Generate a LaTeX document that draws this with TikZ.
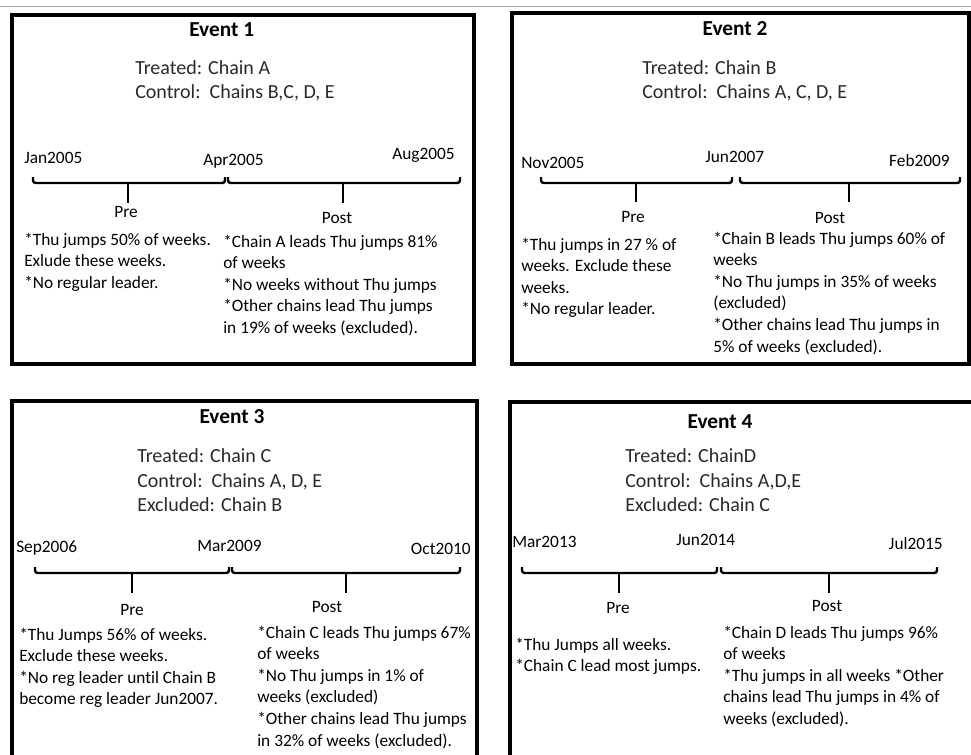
\documentclass[tikz,border=0pt]{standalone}
\usepackage{fontspec}
\setmainfont{Carlito}[Ligatures=NoCommon]
\usepackage{tikz}
\tikzstyle{panel} = [x=.75pt, y=-.75pt]
\definecolor{groupColor}{RGB}{44,40,36}
\definecolor{ruleColor}{RGB}{165,165,165}
\tikzstyle{ruleLine} = [color=ruleColor, line width=1.2pt]
\tikzstyle{frameStyle} = [draw=black, line width=3pt]
\tikzstyle{titleText} = [font=\fontsize{16}{19}\selectfont\bfseries, anchor=base, inner sep=0pt]
\tikzstyle{groupText} = [font=\fontsize{15}{18}\selectfont, text=groupColor, anchor=base west, inner sep=0pt]
\tikzstyle{dateText} = [font=\fontsize{13}{16}\selectfont, anchor=base west, inner sep=0pt]
\tikzstyle{phaseText} = [font=\fontsize{13}{16}\selectfont, anchor=base, inner sep=0pt]
\tikzstyle{noteText} = [font=\fontsize{13}{16.2}\selectfont, anchor=base west, inner sep=0pt]
\tikzstyle{braceLine} = [line width=1.8pt, rounded corners=2pt]
\newcommand{\eventFrame}[4]{\draw [frameStyle] (#1,#2) rectangle (#3,#4);}
% bracket from #1 to #2 hanging at height #4, stem at #3 down to #5
\newcommand{\periodBrace}[5]{
  \draw [braceLine] (#1,#4 - 6) -- (#1,#4) -- (#2,#4) -- (#2,#4 - 6);
  \draw [braceLine] (#3,#4) -- (#3,#5);
}
% lines hang from the baseline of the first one
\newcommand{\noteLines}[1]{\begin{tabular}[t]{@{}l@{}}#1\end{tabular}}
% bullet star, kept away from \\*
\newcommand{\bul}{{}*}

\begin{document}
\begin{tikzpicture}[panel]
    \useasboundingbox (0,0) rectangle (971,754);
    \clip (0,0) rectangle (971,754);
    \draw [ruleLine] (0,6.5) -- (971,6.5);

    % Event 1
    \eventFrame{11.5}{14.5}{473.5}{364}
    \node [titleText] (e1title) at (221.7,36) {Event 1};
    \node [groupText] (e1treated) at (135,74) {Treated: Chain A};
    \node [groupText] (e1control) at (135,98) {Control:\ \ Chains B,C, D, E};
    \node [dateText] (e1start) at (24,163) {Jan2005};
    \node [dateText] (e1switch) at (203,165) {Apr2005};
    \node [dateText, anchor=base east] (e1end) at (455,159) {Aug2005};
    \periodBrace{33}{225}{128}{183}{203}
    \periodBrace{228}{460}{343}{183}{203}
    \node [phaseText] (e1pre) at (126,217) {Pre};
    \node [phaseText] (e1post) at (337,223) {Post};
    \node [noteText] (e1preNote) at (24,245) {\noteLines{\bul Thu jumps 50\% of weeks.\\Exlude these weeks.\\\bul No regular leader.}};
    \node [noteText] (e1postNote) at (223,247) {\noteLines{\bul Chain A leads Thu jumps 81\%\\of weeks\\\bul No weeks without Thu jumps\\\bul Other chains lead Thu jumps\\in 19\% of weeks (excluded).}};

    % Event 2
    \eventFrame{511.5}{13}{969}{363.5}
    \node [titleText] (e2title) at (735,35) {Event 2};
    \node [groupText] (e2treated) at (642,74) {Treated: Chain B};
    \node [groupText] (e2control) at (642,98) {Control:\ \ Chains A, C, D, E};
    \node [dateText] (e2start) at (521,168) {Nov2005};
    \node [dateText] (e2switch) at (705,162) {Jun2007};
    \node [dateText, anchor=base east] (e2end) at (950,166) {Feb2009};
    \periodBrace{541}{732}{636}{183}{202}
    \periodBrace{740}{960}{849}{183}{202}
    \node [phaseText] (e2pre) at (633,222) {Pre};
    \node [phaseText] (e2post) at (830,223) {Post};
    \node [noteText] (e2preNote) at (521,250) {\noteLines{\bul Thu jumps in 27 \% of\\weeks. Exclude these\\weeks.\\\bul No regular leader.}};
    \node [noteText] (e2postNote) at (713,244) {\noteLines{\bul Chain B leads Thu jumps 60\% of\\weeks\\\bul No Thu jumps in 35\% of weeks\\(excluded)\\\bul Other chains lead Thu jumps in\\5\% of weeks (excluded).}};

    % Event 3
    \eventFrame{12}{400.5}{476.5}{800}
    \node [titleText] (e3title) at (232,423) {Event 3};
    \node [groupText] (e3treated) at (137,462) {Treated: Chain C};
    \node [groupText] (e3control) at (137,487) {Control:\ \ Chains A, D, E};
    \node [groupText] (e3excluded) at (137,511) {Excluded: Chain B};
    \node [dateText] (e3start) at (16,552) {Sep2006};
    \node [dateText] (e3switch) at (197,551) {Mar2009};
    \node [dateText, anchor=base east] (e3end) at (471,554) {Oct2010};
    \periodBrace{35}{229}{132}{573}{593}
    \periodBrace{232}{460}{346}{573}{593}
    \node [phaseText] (e3pre) at (132,615) {Pre};
    \node [phaseText] (e3post) at (327,612) {Post};
    \node [noteText] (e3preNote) at (19,640) {\noteLines{\bul Thu Jumps 56\% of weeks.\\Exclude these weeks.\\\bul No reg leader until Chain B\\become reg leader Jun2007.}};
    \node [noteText] (e3postNote) at (257,638) {\noteLines{\bul Chain C leads Thu jumps 67\%\\of weeks\\\bul No Thu jumps in 1\% of\\weeks (excluded)\\\bul Other chains lead Thu jumps\\in 32\% of weeks (excluded).}};

    % Event 4
    \eventFrame{509.5}{401.5}{1000}{800}
    \node [titleText] (e4title) at (720,428) {Event 4};
    \node [groupText] (e4treated) at (625,462) {Treated: ChainD};
    \node [groupText] (e4control) at (625,487) {Control:\ \ Chains A,D,E};
    \node [groupText] (e4excluded) at (625,511) {Excluded: Chain C};
    \node [dateText] (e4start) at (512,547) {Mar2013};
    \node [dateText] (e4switch) at (676,545) {Jun2014};
    \node [dateText, anchor=base east] (e4end) at (943,549) {Jul2015};
    \periodBrace{522}{717}{619}{573}{593}
    \periodBrace{721}{937}{829}{573}{593}
    \node [phaseText] (e4pre) at (618,613) {Pre};
    \node [phaseText] (e4post) at (827,611) {Post};
    \node [noteText] (e4preNote) at (515,650) {\noteLines{\bul Thu Jumps all weeks.\\\bul Chain C lead most jumps.}};
    \node [noteText] (e4postNote) at (723,638) {\noteLines{\bul Chain D leads Thu jumps 96\%\\of weeks\\\bul Thu jumps in all weeks *Other\\chains lead Thu jumps in 4\% of\\weeks (excluded).}};
\end{tikzpicture}
\end{document}
